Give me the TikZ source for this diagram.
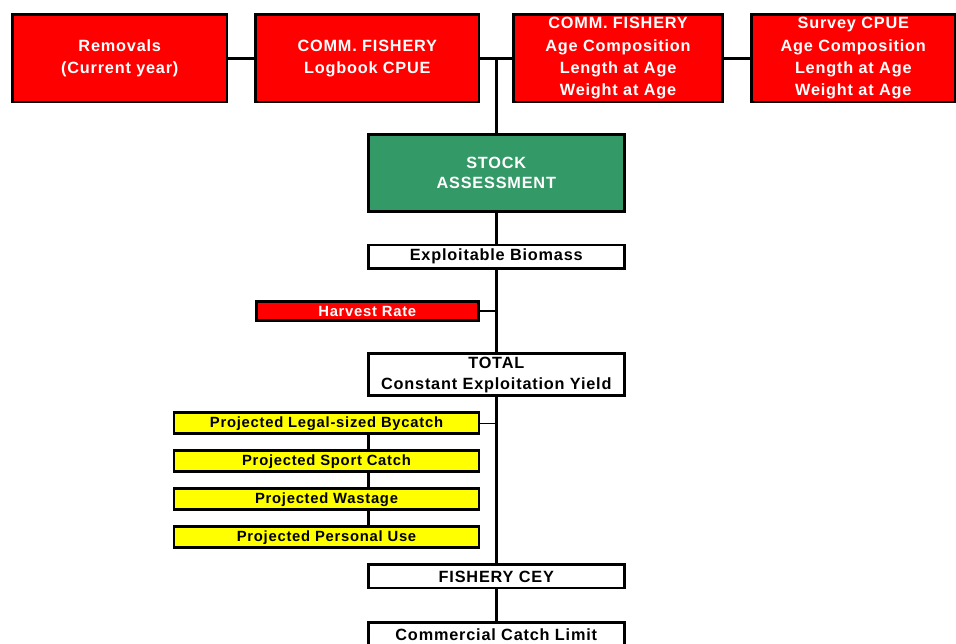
\documentclass[tikz,border=0pt]{standalone}
\usepackage{fontspec}
\setmainfont{Liberation Sans}
\newfontfamily\boxfont{Liberation Sans}[LetterSpace=5]
\usepackage{xcolor}
\usetikzlibrary{positioning,calc}
\definecolor{boxred}{RGB}{255,0,0}
\definecolor{seagreen}{RGB}{51,153,102}
\definecolor{boxyellow}{RGB}{255,255,0}

\begin{document}
\begin{tikzpicture}[
    x=0.75pt, y=-0.75pt,
    box/.style={draw=black, line width=2pt, outer sep=0pt, inner sep=0pt, align=center, font=\boxfont\bfseries\fontsize{12.2}{15.4}\selectfont},
    topbox/.style={box, fill=boxred, text=white, minimum height=65.6pt, font=\boxfont\bfseries\fontsize{12.2}{16.8}\selectfont},
    stockbox/.style={box, fill=seagreen, text=white, minimum width=192pt, minimum height=57.75pt},
    colbox/.style={box, fill=white, minimum width=192pt, minimum height=17.5pt},
    harvbox/.style={box, fill=boxred, text=white, minimum width=166.5pt, minimum height=13.9pt, font=\boxfont\bfseries\fontsize{11.1}{13}\selectfont},
    yelbox/.style={box, fill=boxyellow, minimum width=228.75pt, minimum height=15.75pt, font=\boxfont\bfseries\fontsize{11.1}{13}\selectfont},
    link/.style={line width=2.25pt},
    thinlink/.style={line width=1pt}
]
\useasboundingbox (0,0) rectangle (956,643);

% data sources
\node[topbox, minimum width=160.9pt] (rem) at (119.75,58.25) {Removals\\(Current year)};
\node[topbox, minimum width=167.6pt, right=21.4pt of rem] (logb) {COMM. FISHERY\\Logbook CPUE};
\node[topbox, minimum width=156.75pt, right=25.9pt of logb] (fage) {COMM. FISHERY\\Age Composition\\Length at Age\\Weight at Age};
\node[topbox, minimum width=152.6pt, right=21.75pt of fage] (surv) {Survey CPUE\\Age Composition\\Length at Age\\Weight at Age};
\coordinate (jn) at ($(logb.east)!0.5!(fage.west)$);
\coordinate (jb) at ($(logb.south east)!0.5!(fage.south west)$);

% assessment column
\node[stockbox, below=24.4pt of jb] (stock) {STOCK\\ASSESSMENT};
\node[colbox, below=25.1pt of stock] (bio) {Exploitable Biomass};
\node[colbox, minimum height=31.5pt, below=64.1pt of bio] (total) {TOTAL\\Constant Exploitation Yield};
\node[colbox, below=126.75pt of total] (cey) {FISHERY CEY};
\node[colbox, below=25.9pt of cey] (ccl) {Commercial Catch Limit};

\coordinate (hr) at ($(bio.south)!0.5!(total.north)$);
\node[harvbox] (harv) at (hr -| logb) {Harvest Rate};

% deductions
\coordinate[below=12.75pt of total.south] (yc);
\node[yelbox, anchor=north east] (byc) at (logb.east |- yc) {Projected Legal-sized Bycatch};
\node[yelbox, below=12.75pt of byc] (sport) {Projected Sport Catch};
\node[yelbox, below=12.75pt of sport] (waste) {Projected Wastage};
\node[yelbox, below=12.75pt of waste] (pers) {Projected Personal Use};

\draw[link] (rem) -- (logb);
\draw[link] (logb) -- (fage);
\draw[link] (fage) -- (surv);
\draw[link] (jn) -- (stock);
\draw[link] (stock) -- (bio);
\draw[link] (bio) -- (total);
\draw[link] (total) -- (cey);
\draw[link] (cey) -- (ccl);
\draw[thinlink] (harv) -- (harv -| bio);
\draw[thinlink] (byc) -- (byc -| total);
\draw[link] (byc.south -| stock.west) -- (sport.north -| stock.west);
\draw[link] (sport.south -| stock.west) -- (waste.north -| stock.west);
\draw[link] (waste.south -| stock.west) -- (pers.north -| stock.west);
\end{tikzpicture}
\end{document}
